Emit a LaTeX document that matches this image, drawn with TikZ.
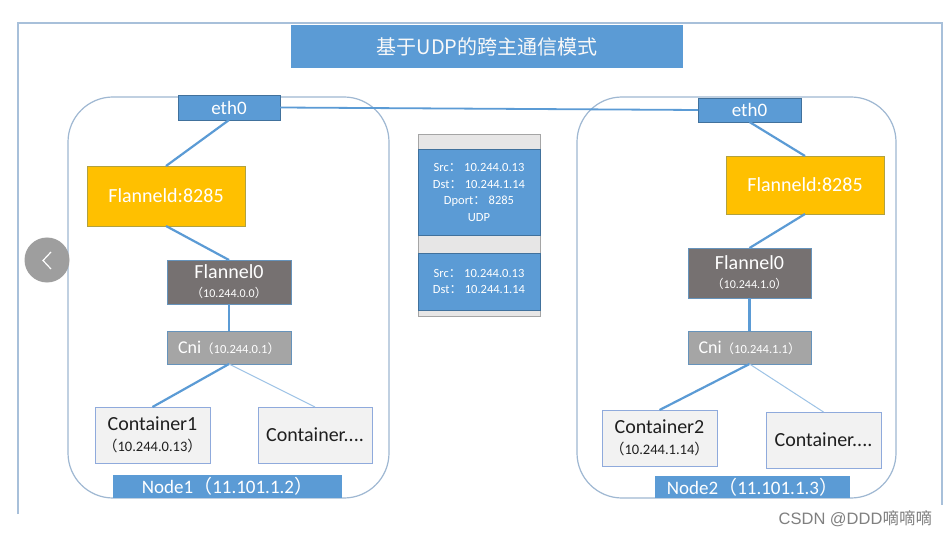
\documentclass[tikz,border=0pt]{standalone}
\usepackage{fontspec}
\setmainfont{Carlito}
\newfontfamily\cjk{Noto Sans CJK SC}
\newfontfamily\arialf{Liberation Sans}
\newcommand\lpar{{\cjk （}}
\newcommand\rpar{{\cjk ）}}
\definecolor{sblue}{HTML}{5B9BD5}
\definecolor{sblueb}{HTML}{41719C}
\definecolor{lineblue}{HTML}{5B9BD5}
\definecolor{thinblue}{HTML}{9DC3E6}
\definecolor{rectcol}{HTML}{9FB8D2}
\definecolor{framecol}{HTML}{A8C0DA}
\definecolor{gold}{HTML}{FFC000}
\definecolor{goldb}{HTML}{D6A300}
\definecolor{darkgray}{HTML}{767171}
\definecolor{midgray}{HTML}{A5A5A5}
\definecolor{lightfill}{HTML}{F2F2F2}
\definecolor{contb}{HTML}{8FAADC}
\definecolor{stripgray}{HTML}{E7E6E6}
\begin{document}
\begin{tikzpicture}[x=1pt,y=-1pt,
  base/.style={inner sep=0pt, outer sep=0pt, align=center},
  bluebox/.style={base, fill=sblue, draw=sblueb, line width=0.8pt, text=white},
  goldbox/.style={base, fill=gold, draw=goldb!70!sblue, line width=0.8pt, text=white, font=\fontsize{20}{22}\selectfont},
  dgbox/.style={base, fill=darkgray, draw=sblue!70!gray, line width=0.8pt, text=white, font=\fontsize{20}{19}\selectfont},
  mgbox/.style={base, fill=midgray, draw=sblue!70!gray, line width=0.8pt, text=white},
  contbox/.style={base, fill=lightfill, draw=contb, line width=0.9pt, text=black!88, font=\fontsize{20}{21}\selectfont},
  link/.style={draw=lineblue, line width=2.2pt},
  thinlink/.style={draw=thinblue, line width=1pt},
  hostrect/.style={draw=rectcol, line width=1.2pt, rounded corners=45pt},
  pkttxt/.style={base, text=white, font=\fontsize{12.5}{16.5}\selectfont},
]
\useasboundingbox (0,0) rectangle (947,537);
\fill[white] (0,0) rectangle (947,537);

% slide frame
\draw[framecol, line width=1.3pt] (18,514) -- (18,23) -- (942,23) -- (942,505);

% title
\node[base, fill=sblue, minimum width=392pt, minimum height=43pt, text=white!95!gray,
  font=\fontsize{20}{22}\selectfont] (title) at (487,46.5) {\cjk 基于UDP的跨主通信模式};

% host outlines
\draw[hostrect] (68,97) rectangle (389,498);
\draw[hostrect] (577,97) rectangle (896,498);

% ---- Node 1 ----
\node[bluebox, minimum width=102pt, minimum height=25pt, font=\fontsize{19}{21}\selectfont] (le) at (229,107.5) {eth0};
\node[goldbox, minimum width=158pt, minimum height=60pt] (lf) at (166,196) {Flanneld:8285};
\node[dgbox, minimum width=124pt, minimum height=44pt] (l0) at (229,282)
  {Flannel0\\{\fontsize{12}{13}\selectfont\lpar 10.244.0.0\rpar}};
\node[mgbox, minimum width=124pt, minimum height=33pt] (lc) at (229,347.5)
  {{\fontsize{18}{20}\selectfont Cni}{\fontsize{12.5}{14}\selectfont\lpar 10.244.0.1\rpar}};
\node[contbox, minimum width=115pt, minimum height=56pt] (lc1) at (152.5,435)
  {Container1\\{\fontsize{14.5}{16}\selectfont\lpar 10.244.0.13\rpar}};
\node[contbox, minimum width=114pt, minimum height=56pt] (lc2) at (315,435) {Container....};
\node[bluebox, draw=none, minimum width=229pt, minimum height=23pt, font=\fontsize{19}{21}\selectfont] (ln) at (227.5,486.5) {Node1\lpar 11.101.1.2\rpar};

\draw[link] (le.south) -- (lf.north);
\draw[link] (lf.south) -- (l0.north);
\draw[link] (l0.south) -- (lc.north);
\draw[link] (lc.south) -- (lc1.north);
\draw[thinlink] (lc.south) -- (lc2.north);

% ---- Node 2 ----
\node[bluebox, minimum width=103pt, minimum height=24pt, font=\fontsize{19}{21}\selectfont] (re) at (749.5,110) {eth0};
\node[goldbox, minimum width=158pt, minimum height=58pt] (rf) at (805,185) {Flanneld:8285};
\node[dgbox, minimum width=123pt, minimum height=50pt] (r0) at (749.5,273)
  {Flannel0\\{\fontsize{12}{13}\selectfont\lpar 10.244.1.0\rpar}};
\node[mgbox, minimum width=123pt, minimum height=33pt] (rc) at (749.5,347.5)
  {{\fontsize{18}{20}\selectfont Cni}{\fontsize{12.5}{14}\selectfont\lpar 10.244.1.1\rpar}};
\node[contbox, minimum width=115pt, minimum height=56pt] (rc1) at (659.5,438)
  {Container2\\{\fontsize{14.5}{16}\selectfont\lpar 10.244.1.14\rpar}};
\node[contbox, minimum width=115pt, minimum height=56pt] (rc2) at (823.5,440) {Container....};
\node[bluebox, draw=none, minimum width=195pt, minimum height=22pt, font=\fontsize{19}{21}\selectfont] (rn) at (752.5,487) {Node2\lpar 11.101.1.3\rpar};

\draw[link] (re.south) -- (rf.north);
\draw[link] (rf.south) -- (r0.north);
\draw[link] (r0.south) -- (rc.north);
\draw[link] (rc.south) -- (rc1.north);
\draw[thinlink] (rc.south) -- (rc2.north);

% eth0 to eth0
\draw[lineblue, line width=1.8pt] (le.east) -- (re.west);

% ---- packet ----
\draw[fill=stripgray, draw=midgray, line width=0.8pt] (418,134) rectangle (540,316);
\draw[fill=sblue, draw=sblueb, line width=0.8pt] (418,149) rectangle (540,235);
\draw[fill=sblue, draw=sblueb, line width=0.8pt] (418,253) rectangle (540,310);
\node[pkttxt] (p1) at (479,192.5)
  {Src{\cjk ：}\ 10.244.0.13\\Dst{\cjk ：}\ 10.244.1.14\\Dport{\cjk ：}\ 8285\\UDP};
\node[pkttxt] (p2) at (479,281.5)
  {Src{\cjk ：}\ 10.244.0.13\\Dst{\cjk ：}\ 10.244.1.14};

% carousel arrow
\fill[black!38] (47,260) circle (22.5pt);
\draw[white, line width=1.2pt] (51,252) -- (43,260.5) -- (51,269);

% watermark
\node[base, text=black!50, anchor=east, font=\fontsize{16.5}{18}\selectfont] (wm) at (932,519)
  {\arialf CSDN @DDD{\cjk 嘀嘀嘀}};
\end{tikzpicture}
\end{document}
